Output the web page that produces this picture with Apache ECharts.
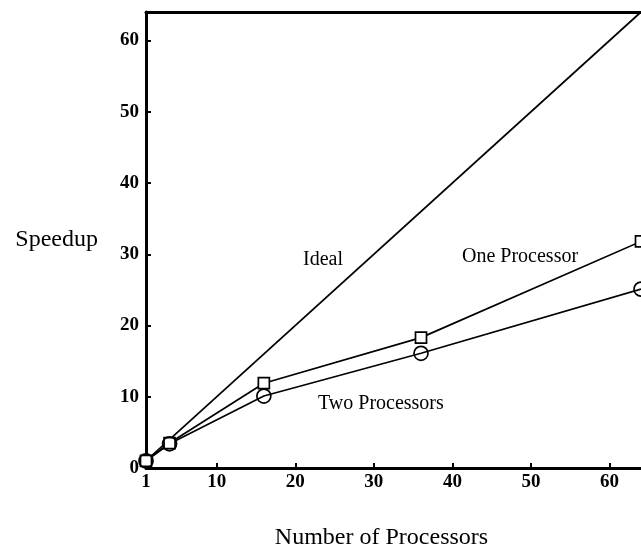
<!DOCTYPE html>
<html>
<head>
<meta charset="utf-8">
<script src="https://cdn.jsdelivr.net/npm/echarts@6/dist/echarts.min.js"></script>
<style>
  html, body { margin: 0; padding: 0; background: #fff; }
  #chart { width: 641px; height: 555px; }
</style>
</head>
<body>
<div id="chart"></div>
<script>
// processor counts
const procs = [1, 4, 16, 36, 64];
// speedup values
const ideal = [[1, 1], [64, 64]];
const oneProc = [1, 3.5, 11.9, 18.3, 31.8];
const twoProc = [1, 3.4, 10.1, 16.1, 25.1];
const xTicks = [1, 10, 20, 30, 40, 50, 60];
const yTicks = [0, 10, 20, 30, 40, 50, 60];

const font = 'Liberation Serif';
const chart = echarts.init(document.getElementById('chart'));

const lineStyle = { color: '#000', width: 1.7 };

const option = {
    animation: false,
    backgroundColor: '#fff',
    grid: { left: 146, right: -4, top: 12, bottom: 82 },
    xAxis: [{
        type: 'value',
        min: 1,
        max: 64,
        name: 'Number of Processors',
        nameLocation: 'middle',
        nameGap: 58,
        nameTextStyle: { fontFamily: font, fontSize: 24, color: '#000', padding: [0, 24, 0, 0] },
        axisLine: { lineStyle: { color: '#000', width: 3 } },
        axisTick: { inside: true, length: 5, customValues: xTicks.slice(1), lineStyle: { color: '#000', width: 2 } },
        axisLabel: { customValues: xTicks, margin: 5, fontFamily: font, fontSize: 19, fontWeight: 'bold', color: '#000' },
        splitLine: { show: false }
    }, {
        // top frame line
        type: 'value', position: 'top', min: 1, max: 64,
        axisLine: { lineStyle: { color: '#000', width: 3 } },
        axisTick: { show: false }, axisLabel: { show: false }, splitLine: { show: false }
    }],
    yAxis: {
        type: 'value',
        min: 0,
        max: 64,
        name: 'Speedup',
        nameLocation: 'middle',
        nameRotate: 0,
        nameGap: 48,
        nameTextStyle: { fontFamily: font, fontSize: 24, color: '#000', align: 'right', padding: [10, 0, 0, 0] },
        axisLine: { lineStyle: { color: '#000', width: 3 } },
        axisTick: { inside: true, length: 5, customValues: yTicks.slice(1), lineStyle: { color: '#000', width: 2 } },
        axisLabel: { customValues: yTicks, margin: 7, fontFamily: font, fontSize: 19, fontWeight: 'bold', color: '#000' },
        splitLine: { show: false }
    },
    series: [{
        name: 'Ideal',
        type: 'line',
        data: ideal,
        showSymbol: false,
        lineStyle: lineStyle
    }, {
        name: 'One Processor',
        type: 'line',
        data: procs.map((p, i) => [p, oneProc[i]]),
        symbol: 'rect',
        symbolSize: 11,
        itemStyle: { color: '#fff', borderColor: '#000', borderWidth: 1.7 },
        lineStyle: lineStyle
    }, {
        name: 'Two Processors',
        type: 'line',
        data: procs.map((p, i) => [p, twoProc[i]]),
        symbol: 'circle',
        symbolSize: 14,
        itemStyle: { color: 'rgba(255,255,255,0)', borderColor: '#000', borderWidth: 1.7 },
        lineStyle: lineStyle
    }],
    graphic: [
        { type: 'text', left: 303, top: 250, style: { text: 'Ideal', font: '20px "Liberation Serif"', fill: '#000' } },
        { type: 'text', left: 462, top: 247, style: { text: 'One Processor', font: '20px "Liberation Serif"', fill: '#000' } },
        { type: 'text', left: 318, top: 394, style: { text: 'Two Processors', font: '20px "Liberation Serif"', fill: '#000' } }
    ]
};

chart.setOption(option);
</script>
</body>
</html>
